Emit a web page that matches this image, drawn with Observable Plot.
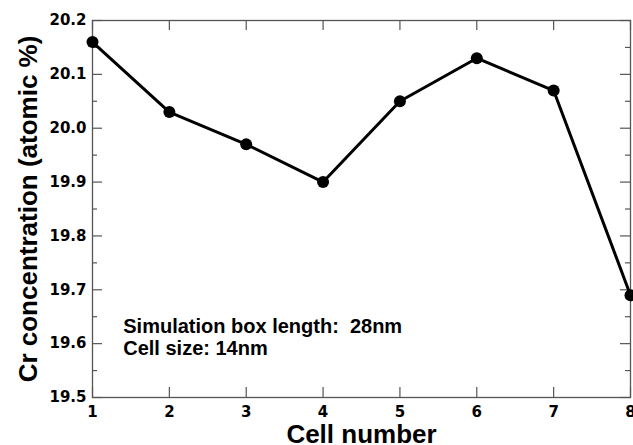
<!DOCTYPE html>
<html><head><meta charset="utf-8">
<script src="https://cdn.jsdelivr.net/npm/d3@7"></script>
<script src="https://cdn.jsdelivr.net/npm/@observablehq/plot@0.6"></script>
<style>body{margin:0;background:#fff}</style>
</head><body><div id="chart"></div>
<script>
const cells = [1, 2, 3, 4, 5, 6, 7, 8];
const crConc = [20.16, 20.03, 19.97, 19.90, 20.05, 20.13, 20.07, 19.69];
const xTicks = [1, 2, 3, 4, 5, 6, 7, 8];
const yTicks = [19.5, 19.6, 19.7, 19.8, 19.9, 20.0, 20.1, 20.2];
const yMinorTicks = [19.55, 19.65, 19.75, 19.85, 19.95, 20.05, 20.15];
const noteLines = ["Simulation box length:\u00a0\u00a028nm", "Cell size: 14nm"];
const noteX = [1.4, 1.4];
const noteY = [19.619, 19.578];
const xTitle = "Cell number";
const yTitle = "Cr concentration (atomic %)";

const data = cells.map((c, i) => ({cell: c, cr: crConc[i]}));
const notes = noteLines.map((t, i) => ({text: t, x: noteX[i], y: noteY[i]}));

const W = 633, H = 445, mL = 92, mR = 3, mT = 20, mB = 48;
const fw = W - mL - mR, fh = H - mT - mB;
const axisColor = "#555";
const font = "Liberation Sans";
const tickFont = "DejaVu Sans";

const chart = Plot.plot({
  width: W, height: H,
  marginLeft: mL, marginRight: mR, marginTop: mT, marginBottom: mB,
  style: {fontFamily: font, background: "#fff", color: "#000"},
  x: {domain: [1, 8]},
  y: {domain: [19.5, 20.2]},
  marks: [
    Plot.frame({stroke: axisColor, strokeWidth: 1.3}),
    // inward ticks
    Plot.tickX(xTicks, {x: d => d, insetTop: fh - 10, stroke: axisColor, strokeWidth: 1.2}),
    Plot.tickX(xTicks, {x: d => d, insetBottom: fh - 10, stroke: axisColor, strokeWidth: 1.2}),
    Plot.tickY(yTicks, {y: d => d, insetRight: fw - 10, stroke: axisColor, strokeWidth: 1.2}),
    Plot.tickY(yTicks, {y: d => d, insetLeft: fw - 10, stroke: axisColor, strokeWidth: 1.2}),
    Plot.tickY(yMinorTicks, {y: d => d, insetRight: fw - 5, stroke: axisColor, strokeWidth: 1.2}),
    Plot.tickY(yMinorTicks, {y: d => d, insetLeft: fw - 5, stroke: axisColor, strokeWidth: 1.2}),
    Plot.axisX({ticks: xTicks, tickSize: 0, tickPadding: 9, label: null, fontFamily: tickFont, fontSize: 15, fontWeight: "bold", tickFormat: d => String(d)}),
    Plot.axisY({ticks: yTicks, tickSize: 0, tickPadding: 6, label: null, fontFamily: tickFont, fontSize: 15, fontWeight: "bold", tickFormat: d => d.toFixed(1)}),
    Plot.line(data, {x: "cell", y: "cr", stroke: "#000", strokeWidth: 3}),
    Plot.dot(data, {x: "cell", y: "cr", r: 6, fill: "#000", stroke: "none"}),
    Plot.text(notes, {x: "x", y: "y", text: "text", textAnchor: "start", lineAnchor: "bottom", fontSize: 20, fontWeight: "bold", fill: "#000"}),
    Plot.text([xTitle], {frameAnchor: "bottom", textAnchor: "middle", dy: 45, lineAnchor: "bottom", fontSize: 26, fontWeight: "bold", fill: "#000"}),
    Plot.text([yTitle], {frameAnchor: "left", textAnchor: "middle", dx: -64, rotate: -90, lineAnchor: "middle", fontSize: 26, fontWeight: "bold", fill: "#000"})
  ]
});
document.getElementById("chart").appendChild(chart);
</script>
</body></html>
